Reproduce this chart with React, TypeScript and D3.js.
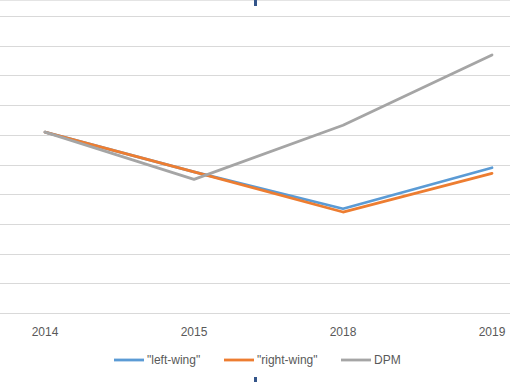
import React from "react";
import * as d3 from "d3";

const categories = ["2014", "2015", "2018", "2019"];
const leftWing = [6.09, 4.75, 3.51, 4.89];
const rightWing = [6.09, 4.75, 3.4, 4.7];
const dpm = [6.09, 4.5, 6.32, 8.69];
const gridTicks = [0, 1, 2, 3, 4, 5, 6, 7, 8, 9, 10];
const seriesNames = ['"left-wing"', '"right-wing"', "DPM"];
const seriesColors = ["#5B9BD5", "#ED7D31", "#A5A5A5"];

const W = 510;
const H = 382;

export default function App() {
  const x = d3.scalePoint<string>().domain(categories).range([45, 492]);
  const y = d3.scaleLinear().domain([0, 10]).range([313, 16]);
  const line = d3
    .line<number>()
    .x((_, i) => x(categories[i]) as number)
    .y((d) => y(d));
  const series = [leftWing, rightWing, dpm];
  const font = "'Liberation Sans', Arial, sans-serif";
  const legendX = [114, 224, 341];
  return (
    <svg
      width={W}
      height={H}
      style={{ position: "absolute", left: 0, top: 0, background: "#fff" }}
    >
      <rect x={0} y={0} width={W} height={H} fill="#fff" />
      <line x1={0} x2={W} y1={0.5} y2={0.5} stroke="#E4E4E4" strokeWidth={1} />
      {gridTicks.map((t) => (
        <line
          key={t}
          x1={0}
          x2={W}
          y1={Math.round(y(t)) + 0.5}
          y2={Math.round(y(t)) + 0.5}
          stroke="#D9D9D9"
          strokeWidth={1}
        />
      ))}
      {categories.map((c) => (
        <text
          key={c}
          x={x(c)}
          y={335.5}
          textAnchor="middle"
          fontFamily={font}
          fontSize={12}
          fill="#595959"
        >
          {c}
        </text>
      ))}
      {series.map((s, i) => (
        <path
          key={i}
          d={line(s) || ""}
          fill="none"
          stroke={seriesColors[i]}
          strokeWidth={2.8}
          strokeLinejoin="round"
          strokeLinecap="round"
        />
      ))}
      {seriesNames.map((n, i) => (
        <g key={n}>
          <line
            x1={legendX[i]}
            x2={legendX[i] + 30}
            y1={360}
            y2={360}
            stroke={seriesColors[i]}
            strokeWidth={2.8}
          />
          <text
            x={legendX[i] + 33}
            y={364}
            fontFamily={font}
            fontSize={12}
            fill="#595959"
          >
            {n}
          </text>
        </g>
      ))}
      <rect x={254} y={0} width={3} height={6} fill="#34558A" />
      <rect x={254} y={377} width={3} height={5} fill="#34558A" />
    </svg>
  );
}
